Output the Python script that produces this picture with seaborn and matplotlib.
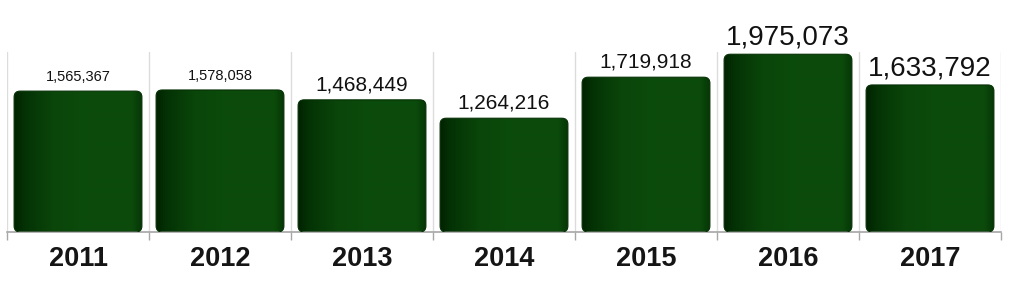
import numpy as np
import pandas as pd
import matplotlib
matplotlib.use("Agg")
import matplotlib.pyplot as plt
import seaborn as sns
from matplotlib.patches import FancyBboxPatch
from matplotlib.colors import LinearSegmentedColormap

# ---- data ----
years = ["2011", "2012", "2013", "2014", "2015", "2016", "2017"]
values = [1565367, 1578058, 1468449, 1264216, 1719918, 1975073, 1633792]
value_labels = ["1,565,367", "1,578,058", "1,468,449", "1,264,216",
                "1,719,918", "1,975,073", "1,633,792"]

# ---- style ----
label_sizes = [10.5, 10.5, 15, 15, 15, 20, 20]

sns.set_theme(style="white")
plt.rcParams['font.family'] = ['Liberation Sans', 'DejaVu Sans']

fig = plt.figure(figsize=(10.16, 3.04), dpi=100)
fig.patch.set_facecolor("white")
ax = fig.add_axes([7 / 1016, 72 / 304, 994 / 1016, 180 / 304])

df = pd.DataFrame({"year": years, "value": values})
sns.barplot(data=df, x="year", y="value", ax=ax, width=0.9,
            color="#0b4b0b", saturation=1)
ax.set_ylim(0, 2000000)
ax.set_xlim(-0.5, 6.5)

# aspect for rounded corners
p0 = ax.transData.transform((0, 0))
p1 = ax.transData.transform((1, 1))
xpx = p1[0] - p0[0]
ypx = p1[1] - p0[1]
asp = xpx / ypx
r = 6 / xpx

cmap = LinearSegmentedColormap.from_list(
    "grn",
    [(0.0, "#012201"), (0.08, "#043205"), (0.3, "#0a450a"),
     (0.55, "#0b4b0b"), (0.93, "#0b4a0b"), (1.0, "#063606")])
grad = np.linspace(0, 1, 256).reshape(1, -1)

bars = list(ax.patches)
for p in bars:
    x, y0 = p.get_x(), p.get_y()
    w, h = p.get_width(), p.get_height()
    p.set_visible(False)
    fb = FancyBboxPatch((x, y0), w, h,
                        boxstyle=f"round,pad=0,rounding_size={r}",
                        mutation_aspect=asp, fc="none", ec="#063006",
                        lw=0.8, zorder=3)
    ax.add_patch(fb)
    im = ax.imshow(grad, extent=[x, x + w, y0, y0 + h], aspect="auto",
                   cmap=cmap, zorder=2, interpolation="bilinear")
    im.set_clip_path(fb)

ax.set_ylim(0, 2000000)
ax.set_xlim(-0.5, 6.5)

# value labels
for p, lab, s in zip(bars, value_labels, label_sizes):
    ax.annotate(lab, (p.get_x() + p.get_width() / 2, p.get_height()),
                xytext=(0, 7), textcoords="offset points",
                ha="center", va="baseline", fontsize=s, color="#111111",
                annotation_clip=False)

# axes styling
ax.set_xticks(range(len(years)))
ax.set_xticklabels(years, fontsize=19.5, fontweight="bold", color="#151515")
ax.set_xticks(np.arange(-0.5, len(years), 1), minor=True)
ax.tick_params(axis="x", which="major", length=0, pad=10)
ax.tick_params(axis="x", which="minor", length=6, width=1,
               color="#a6a6a6", direction="out", bottom=True)
ax.xaxis.grid(True, which="minor", color="#dcdcdc", lw=1)
ax.xaxis.grid(False, which="major")
ax.yaxis.grid(False)
ax.set_axisbelow(True)
ax.set_yticks([])
ax.set_xlabel("")
ax.set_ylabel("")
for sp in ["left", "right", "top"]:
    ax.spines[sp].set_visible(False)
ax.spines["bottom"].set_color("#a6a6a6")
ax.spines["bottom"].set_linewidth(1.2)

fig.savefig("out.png", dpi=100, facecolor="white")
